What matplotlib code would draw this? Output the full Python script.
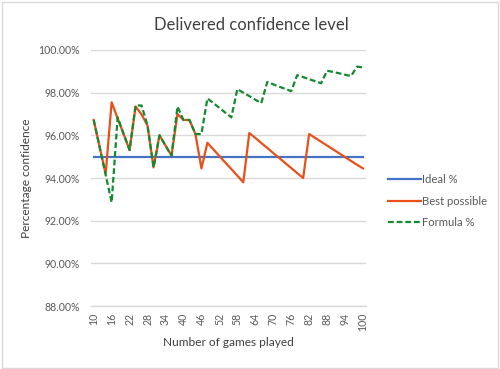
import matplotlib
matplotlib.use("Agg")
import matplotlib.pyplot as plt
from matplotlib.patches import Rectangle
from matplotlib.ticker import FuncFormatter, MultipleLocator

plt.rcParams['font.family'] = ['Lato', 'DejaVu Sans']

# games played, every 2 from 10 to 100
games = list(range(10, 101, 2))

ideal = [95.0] * len(games)

best_possible = [
    96.72, 95.45, 94.20, 97.55, 96.80, 96.06, 95.31, 97.35, 96.98, 96.45,
    94.50, 96.00, 95.52, 95.05, 97.00, 96.72, 96.72, 96.06, 94.45, 95.65,
    95.34, 95.03, 94.72, 94.42, 94.11, 93.80, 96.11, 95.88, 95.64, 95.41,
    95.17, 94.94, 94.70, 94.47, 94.23, 94.00, 96.06, 95.88, 95.70, 95.52,
    95.34, 95.16, 94.98, 94.80, 94.62, 94.45,
]

formula = [
    96.72, 95.43, 94.14, 92.86, 96.84, 96.06, 95.31, 97.40, 97.40, 96.45,
    94.50, 96.00, 95.52, 95.05, 97.35, 96.72, 96.72, 96.06, 96.06, 97.73,
    97.51, 97.29, 97.06, 96.84, 98.17, 98.00, 97.84, 97.67, 97.51, 98.50,
    98.39, 98.28, 98.18, 98.07, 98.82, 98.73, 98.63, 98.54, 98.44, 99.03,
    98.97, 98.91, 98.84, 98.78, 99.22, 99.18,
]

text_col = "#595959"
grid_col = "#D9D9D9"

fig = plt.figure(figsize=(5.0, 3.69), dpi=100)
ax = fig.add_axes([0.1814, 0.1707, 0.5506, 0.6938])

idx = list(range(len(games)))
ax.plot(idx, ideal, color="#4472C4", lw=1.6, label="Ideal %", zorder=3)
ax.plot(idx, best_possible, color="#E8501A", lw=1.6, label="Best possible", zorder=4)
ax.plot(idx, formula, color="#138A2E", lw=1.6, dashes=(2.6, 1.3),
        label="Formula %", zorder=5)

ax.set_xlim(-0.5, len(games) - 0.5)
ax.set_ylim(88, 100)
ax.yaxis.set_major_locator(MultipleLocator(2))
ax.yaxis.set_major_formatter(FuncFormatter(lambda v, p: "%.2f%%" % v))
ax.set_xticks(idx[::3])
ax.set_xticklabels([str(g) for g in games[::3]], rotation=90)

ax.grid(axis="y", color=grid_col, lw=1.0)
ax.set_axisbelow(True)
for s in ["top", "right", "left"]:
    ax.spines[s].set_visible(False)
ax.spines["bottom"].set_color(grid_col)
ax.spines["bottom"].set_linewidth(1.0)
ax.tick_params(axis="both", length=0, labelsize=7.6, colors=text_col)
ax.tick_params(axis="y", pad=8)
ax.tick_params(axis="x", pad=5)

# axis titles and chart title
fig.text(0.456, 0.0705, "Number of games played", fontsize=8.6,
         color="#404040", ha="center", va="center")
fig.text(0.054, 0.518, "Percentage confidence", fontsize=8.6, rotation=90,
         color="#404040", ha="center", va="center")
fig.text(0.502, 0.932, "Delivered confidence level", fontsize=12,
         color="#404040", ha="center", va="center")

leg = ax.legend(loc="center left", bbox_to_anchor=(1.042, 0.41), frameon=False,
                fontsize=8.1, handlelength=2.95, handletextpad=0.1,
                labelspacing=0.95, labelcolor=text_col)

fig.patches.append(Rectangle((0.003, 0.004), 0.993, 0.991, transform=fig.transFigure,
                             fill=False, edgecolor="#D9D9D9", lw=1.0))

fig.savefig("out.png", dpi=100, facecolor="white")
